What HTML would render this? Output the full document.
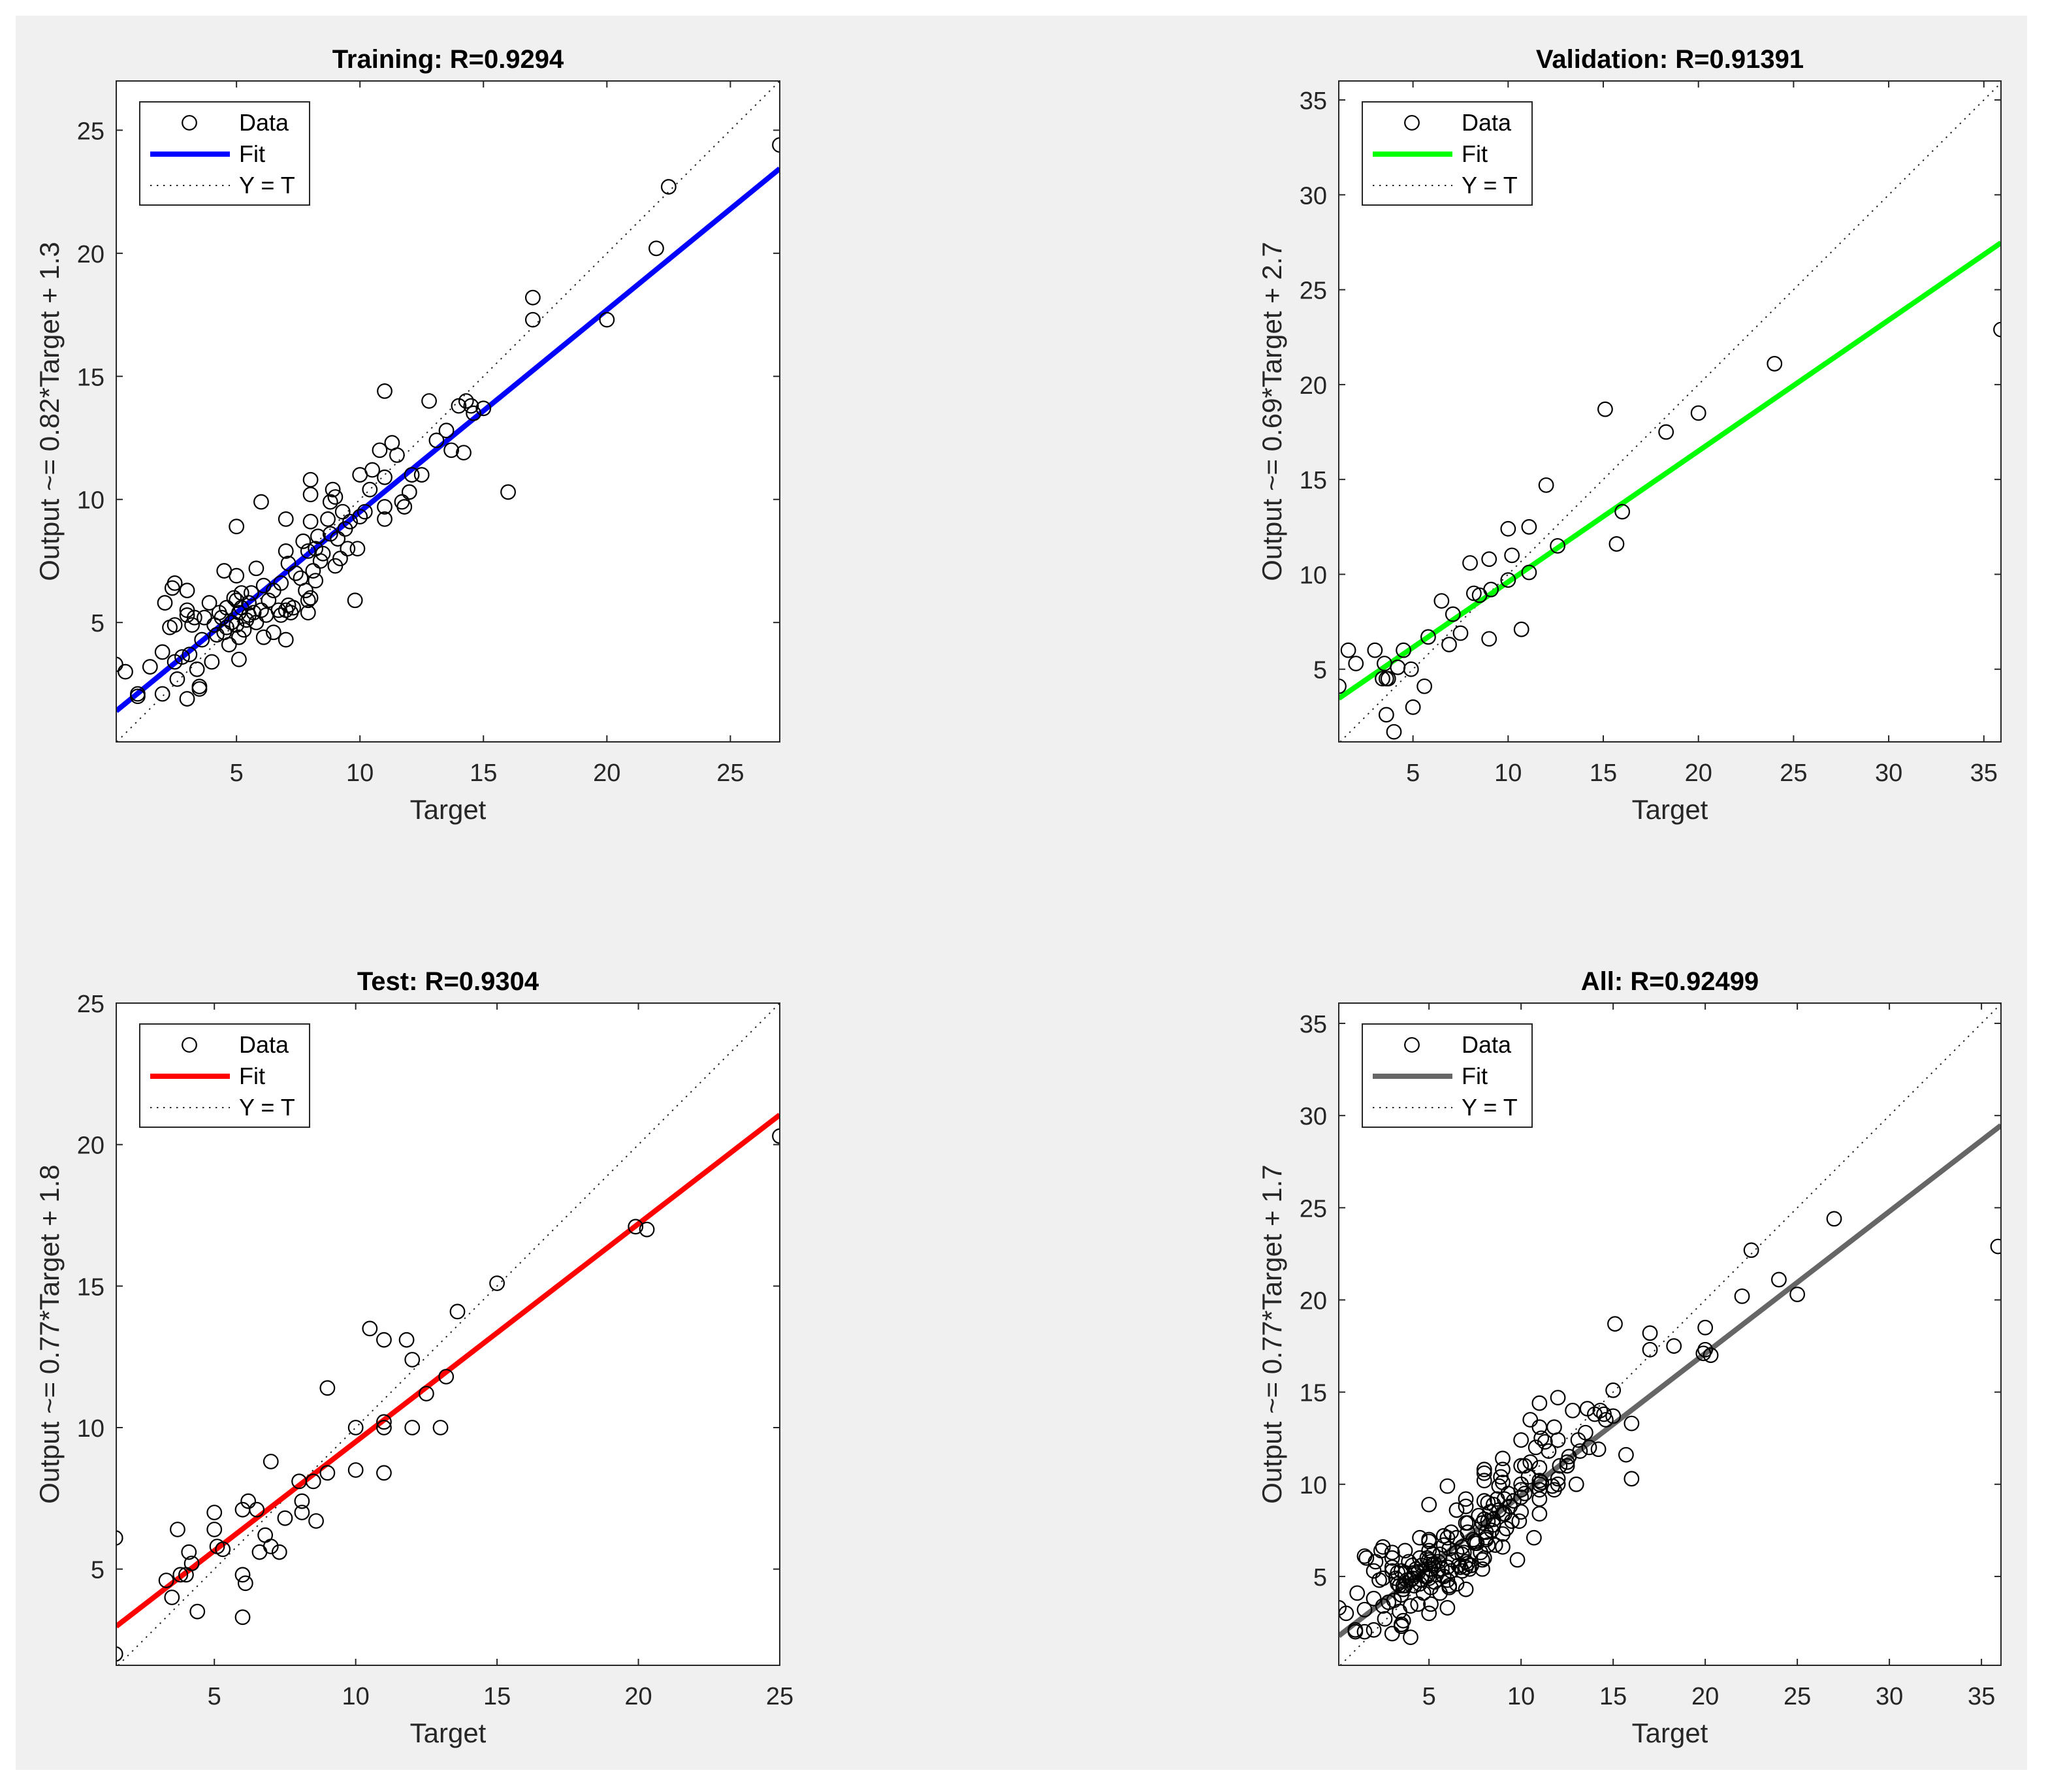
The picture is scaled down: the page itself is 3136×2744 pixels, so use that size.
<!DOCTYPE html>
<html><head><meta charset="utf-8">
<style>
html,body{margin:0;padding:0;background:#fff;}
svg{display:block;font-family:"Liberation Sans",Arial,sans-serif;}
</style></head>
<body>
<svg id="fig" width="3136" height="2744" viewBox="0 0 1568 1372" xmlns="http://www.w3.org/2000/svg">
<rect x="0" y="0" width="1568" height="1372" fill="#ffffff"/>
<rect x="12" y="12" width="1540" height="1343" fill="#f0f0f0"/>
</svg>
<script>
// ---- Training data ----
const trainT = [0.1,0.5,1.0,1.0,1.5,2.0,2.0,2.1,2.4,2.5,2.3,2.5,2.5,2.6,2.8,3.0,3.0,3.0,3.0,3.1,3.4,3.5,3.5,3.6,3.7,3.9,4.0,4.2,4.3,4.5,4.6,4.6,4.7,5.0,5.0,5.0,5.1,5.1,5.1,5.2,5.4,5.5,5.6,5.7,5.8,6.0,6.1,6.1,6.2,6.3,6.5,6.8,7.0,7.0,7.0,7.1,7.1,7.2,7.3,7.4,7.7,7.8,7.9,7.9,8.0,8.0,8.0,8.1,8.2,8.3,8.4,8.7,8.8,8.9,9.0,9.0,9.1,9.2,9.4,9.5,9.6,9.8,9.9,10.0,10.0,10.4,10.5,10.8,11.0,11.0,11.0,11.0,11.3,11.5,11.7,11.8,12.0,12.1,12.5,12.8,13.1,13.5,13.7,14.0,14.2,14.3,14.5,14.6,15.0,16.0,17.0,17.0,20.0,22.0,22.5,27.0,4.8,5.3,5.5,4.5,6.0,5.0,5.2,6.7,6.8,7.0,6.5,4.9,5.8,3.2,3.3,4.1,4.4,8.5,8.8,7.6,8.0,8.2,7.9,9.3,10.2];
const trainY = [3.3,3.0,2.0,2.1,3.2,2.1,3.8,5.8,6.4,6.6,4.8,4.9,3.4,2.7,3.6,1.9,5.3,5.5,6.3,3.7,3.1,2.3,2.4,4.3,5.2,5.8,3.4,4.5,5.4,7.1,5.6,4.8,4.1,5.9,8.9,6.9,5.4,4.4,3.5,6.2,5.1,5.8,6.2,5.4,7.2,9.9,4.4,6.5,5.3,5.9,6.3,6.6,4.3,7.9,9.2,5.7,7.4,5.4,5.6,7.0,8.3,6.3,5.4,5.9,9.1,10.8,10.2,7.1,8.0,8.5,7.5,9.2,9.9,10.4,10.1,7.3,8.4,7.6,8.8,8.0,9.1,5.9,8.0,9.3,11.0,10.4,11.2,12.0,9.2,9.7,10.9,14.4,12.3,11.8,9.9,9.7,10.3,11.0,11.0,14.0,12.4,12.8,12.0,13.8,11.9,14.0,13.8,13.5,13.7,10.3,18.2,17.3,17.3,20.2,22.7,24.4,5.0,4.7,5.3,4.6,5.5,4.9,5.6,5.5,5.3,5.5,4.6,6.0,5.0,4.9,5.2,4.9,5.2,7.8,8.6,6.8,6.0,6.7,7.9,9.5,9.5];
// ---- Validation data ----
const valT = [1.1,1.6,2.0,3.0,3.4,3.6,3.7,3.5,3.6,4.0,4.2,4.5,4.9,5.0,5.6,5.8,6.5,6.9,7.1,7.5,8.0,8.2,8.5,9.0,9.0,9.1,10.0,10.0,10.2,10.7,11.1,11.1,12.0,12.6,15.1,15.7,16.0,18.3,20.0,24.0,35.9];
const valY = [4.1,6.0,5.3,6.0,4.5,4.5,4.5,5.3,2.6,1.7,5.1,6.0,5.0,3.0,4.1,6.7,8.6,6.3,7.9,6.9,10.6,9.0,8.9,10.8,6.6,9.2,9.7,12.4,11.0,7.1,10.1,12.5,14.7,11.5,18.7,11.6,13.3,17.5,18.5,21.1,22.9];
// ---- Test data ----
const testT = [1.5,1.5,3.3,3.5,3.7,3.8,4.0,4.1,4.2,4.4,5.0,5.0,5.1,5.3,6.0,6.0,6.1,6.0,6.2,6.5,6.6,6.8,7.0,7.0,7.3,7.5,8.0,8.1,8.1,8.5,8.6,9.0,9.0,10.0,10.0,10.5,11.0,11.0,11.0,11.0,11.8,12.0,12.0,12.5,13.0,13.2,13.6,15.0,19.9,20.3,25.0];
const testY = [6.1,2.0,4.6,4.0,6.4,4.8,4.8,5.6,5.2,3.5,7.0,6.4,5.8,5.7,3.3,4.8,4.5,7.1,7.4,7.1,5.6,6.2,8.8,5.8,5.6,6.8,8.1,7.4,7.0,8.1,6.7,8.4,11.4,10.0,8.5,13.5,8.4,13.1,10.0,10.2,13.1,10.0,12.4,11.2,10.0,11.8,14.1,15.1,17.1,17.0,20.3];
// ---- All data (union) ----
const allT = trainT.concat(valT, testT);
const allY = trainY.concat(valY, testY);
// ---- Fit coefficients ----
const fitSlopes = [0.82, 0.69, 0.77, 0.77];
const fitOffsets = [1.3, 2.7, 1.8, 1.7];
const titles = ["Training: R=0.9294","Validation: R=0.91391","Test: R=0.9304","All: R=0.92499"];
const yLabels = ["Output ~= 0.82*Target + 1.3","Output ~= 0.69*Target + 2.7","Output ~= 0.77*Target + 1.8","Output ~= 0.77*Target + 1.7"];
const xTicks0 = [5,10,15,20,25];
const yTicks0 = [5,10,15,20,25];
const xTicks1 = [5,10,15,20,25,30,35];
const yTicks1 = [5,10,15,20,25,30,35];
const xTicks2 = [5,10,15,20,25];
const yTicks2 = [5,10,15,20,25];
const xTicks3 = [5,10,15,20,25,30,35];
const yTicks3 = [5,10,15,20,25,30,35];
const xRanges = [[0.13,27.0],[1.1,35.9],[1.53,25.0],[0.1,36.06]];
const yRanges = [[0.15,27.0],[1.17,36.0],[1.6,25.0],[0.18,36.1]];

const NS = "http://www.w3.org/2000/svg";
const svg = document.getElementById("fig");
function mk(tag, attrs, parent){
  const e = document.createElementNS(NS, tag);
  for (const k in attrs) e.setAttribute(k, attrs[k]);
  (parent||svg).appendChild(e);
  return e;
}
const boxes = [[89,62,597,568],[1025,62,1532,568],[89,768,597,1275],[1025,768,1532,1275]];
const colors = ["#0000ff","#00ff00","#ff0000","#666666"];
const names = ["training","validation","test","all"];
const xs = [trainT,valT,testT,allT], ys = [trainY,valY,testY,allY];
const xtk = [xTicks0,xTicks1,xTicks2,xTicks3], ytk = [yTicks0,yTicks1,yTicks2,yTicks3];

for (let p=0;p<4;p++){
  const [L,T,R,B] = boxes[p];
  const g = mk("g",{});
  
  
  const [x0,x1] = xRanges[p], [y0,y1] = yRanges[p];
  const sx = v => L + (v-x0)/(x1-x0)*(R-L);
  const sy = v => B - (v-y0)/(y1-y0)*(B-T);
  const bg = mk("rect",{x:L,y:T,width:R-L,height:B-T,fill:"#fff"},g);
  
  
  const cid = "clip"+p;
  const cp = mk("clipPath",{id:cid},g);
  mk("rect",{x:L,y:T,width:R-L,height:B-T},cp);
  const plot = mk("g",{"clip-path":"url(#"+cid+")"},g);
  const lo = Math.max(x0,y0), hi = Math.min(x1,y1);
  const diag = mk("line",{x1:sx(lo),y1:sy(lo),x2:sx(hi),y2:sy(hi),stroke:"#222","stroke-width":1,"stroke-dasharray":"1.2 3.8"},plot);
  
  
  const m = fitSlopes[p], c = fitOffsets[p];
  const fit = mk("line",{x1:sx(x0),y1:sy(m*x0+c),x2:sx(x1),y2:sy(m*x1+c),stroke:colors[p],"stroke-width":4},plot);
  
  
  for (let i=0;i<xs[p].length;i++){
    const ci = mk("circle",{cx:sx(xs[p][i]),cy:sy(ys[p][i]),r:5.4,fill:"none",stroke:"#000","stroke-width":1.1},plot);
    
    
  }
  mk("rect",{x:L,y:T,width:R-L,height:B-T,fill:"none",stroke:"#262626","stroke-width":1},g);
  xtk[p].forEach(v=>{
    const X = sx(v);
    mk("line",{x1:X,y1:B,x2:X,y2:B-5,stroke:"#262626","stroke-width":1},g);
    mk("line",{x1:X,y1:T,x2:X,y2:T+5,stroke:"#262626","stroke-width":1},g);
    const t = mk("text",{x:X,y:B+30,"text-anchor":"middle","font-size":19,fill:"#262626"},g);
    t.textContent = v;
    
    
  });
  ytk[p].forEach(v=>{
    const Y = sy(v);
    mk("line",{x1:L,y1:Y,x2:L+5,y2:Y,stroke:"#262626","stroke-width":1},g);
    mk("line",{x1:R,y1:Y,x2:R-5,y2:Y,stroke:"#262626","stroke-width":1},g);
    const t = mk("text",{x:L-9,y:Y+7,"text-anchor":"end","font-size":19,fill:"#262626"},g);
    t.textContent = v;
    
    
  });
  const tt = mk("text",{x:(L+R)/2,y:T-10,"text-anchor":"middle","font-size":20,"font-weight":"bold",fill:"#000"},g);
  tt.textContent = titles[p];
  
  
  const xl = mk("text",{x:(L+R)/2,y:B+59,"text-anchor":"middle","font-size":21,fill:"#262626"},g);
  xl.textContent = "Target";
  
  
  const yc = (T+B)/2, yx = L-44;
  const yl = mk("text",{x:yx,y:yc,"text-anchor":"middle","font-size":21,fill:"#262626",transform:"rotate(-90 "+yx+" "+yc+")"},g);
  yl.textContent = yLabels[p];
  
  
  const lg = mk("g",{},g);
  
  
  const lx = L+18, ly = T+16;
  mk("rect",{x:lx,y:ly,width:130,height:79,fill:"#fff",stroke:"#262626","stroke-width":1},lg);
  mk("circle",{cx:lx+38,cy:ly+16,r:5.4,fill:"none",stroke:"#000","stroke-width":1.1},lg);
  mk("line",{x1:lx+8,y1:ly+40,x2:lx+69,y2:ly+40,stroke:colors[p],"stroke-width":4},lg);
  mk("line",{x1:lx+8,y1:ly+64,x2:lx+69,y2:ly+64,stroke:"#222","stroke-width":1,"stroke-dasharray":"1.2 3.8"},lg);
  const lbl = ["Data","Fit","Y = T"];
  lbl.forEach((s,i)=>{
    const t = mk("text",{x:lx+76,y:ly+22+24*i,"font-size":18,fill:"#000"},lg);
    t.textContent = s;
    
    
  });
}
</script>
</body></html>
